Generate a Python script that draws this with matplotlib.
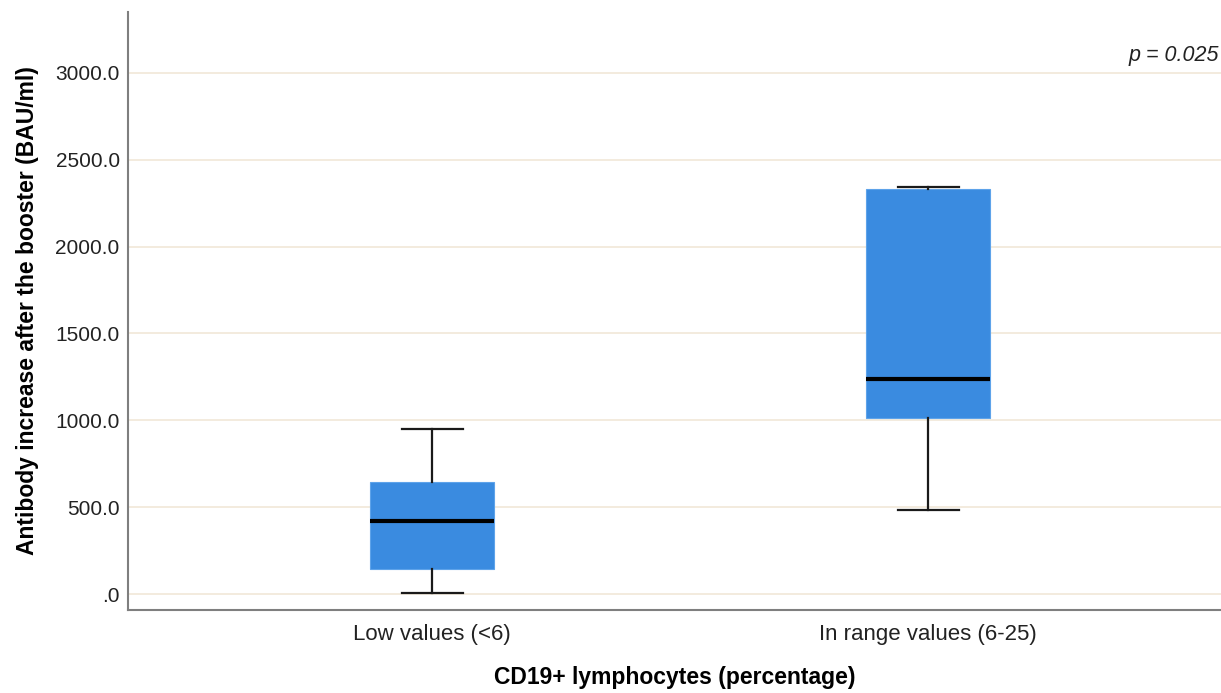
import matplotlib
matplotlib.use("Agg")
import matplotlib.pyplot as plt

plt.rcParams['font.family'] = ['Liberation Sans', 'DejaVu Sans']

groups = ['Low values (<6)', 'In range values (6-25)']
whisker_low = [8, 484]
q1 = [144, 1013]
median = [420, 1238]
q3 = [645, 2330]
whisker_high = [950, 2340]

yticks = [0, 500, 1000, 1500, 2000, 2500, 3000]
ytick_labels = ['.0', '500.0', '1000.0', '1500.0', '2000.0', '2500.0', '3000.0']

stats = []
for i, g in enumerate(groups):
    stats.append({'label': g, 'whislo': whisker_low[i], 'q1': q1[i], 'med': median[i],
                  'q3': q3[i], 'whishi': whisker_high[i], 'fliers': []})

fig = plt.figure(figsize=(12.21, 6.93), dpi=100)
ax = fig.add_axes([128 / 1221, 1 - 610 / 693, (1221 - 128) / 1221, (610 - 12) / 693])

for y in yticks:
    ax.axhline(y, color='#f1e7d8', lw=1.2, zorder=0)

ax.bxp(stats, positions=[0, 1], widths=0.25, patch_artist=True, showfliers=False,
       boxprops=dict(facecolor='#3a8be0', edgecolor='#5ea3ea', linewidth=0.8),
       medianprops=dict(color='black', linewidth=3),
       whiskerprops=dict(color='#1a1a1a', linewidth=1.6),
       capprops=dict(color='#1a1a1a', linewidth=1.6),
       capwidths=0.123, zorder=2)

ax.set_xlim(-0.613, 1.59)
ax.set_ylim(-92, 3350)
ax.set_yticks(yticks)
ax.set_yticklabels(ytick_labels)
ax.tick_params(axis='y', length=0, labelsize=15, colors='#222222', pad=6)
ax.tick_params(axis='x', length=0, labelsize=16, colors='#222222', pad=10)

for side in ['top', 'right']:
    ax.spines[side].set_visible(False)
for side in ['left', 'bottom']:
    ax.spines[side].set_color('#7f7f7f')
    ax.spines[side].set_linewidth(1.5)

ax.set_ylabel('Antibody increase after the booster (BAU/ml)', fontsize=16.5,
              fontweight='bold', labelpad=12)
ax.set_xlabel('CD19+ lymphocytes (percentage)', fontsize=16.5, fontweight='bold',
              labelpad=15)

ax.text(0.998, 3100, 'p = 0.025', transform=ax.get_yaxis_transform(), ha='right',
        va='center', fontsize=15.5, fontstyle='italic', color='#222222')

fig.savefig('out.png', dpi=100)
